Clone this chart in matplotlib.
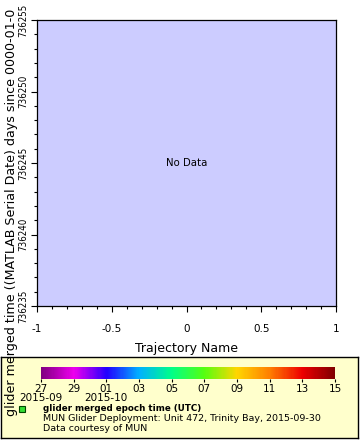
import numpy as np
import matplotlib
matplotlib.use("Agg")
import matplotlib.pyplot as plt
from matplotlib.colors import LinearSegmentedColormap, Normalize
from matplotlib.ticker import MultipleLocator, FixedLocator, FixedFormatter
import matplotlib.colorbar as mcolorbar

# axis ranges and ticks
x_range = [-1, 1]
x_ticks = [-1, -0.5, 0, 0.5, 1]
x_tick_labels = ["-1", "-0.5", "0", "0.5", "1"]
y_range = [736235, 736255]
y_ticks = [736235, 736240, 736245, 736250, 736255]
y_tick_labels = ["736235", "736240", "736245", "736250", "736255"]

# colorbar: days since 2015-09-27
cbar_days = [0, 2, 4, 6, 8, 10, 12, 14, 16, 18]
cbar_labels = ["27\n2015-09", "29", "01\n2015-10", "03", "05", "07", "09", "11", "13", "15"]
cmap_pos = [0, 2, 4, 6, 8, 10, 12, 14, 16, 18]
cmap_colors = ["#800080", "#ee00ee", "#2200ff", "#00b0ff", "#00ff88",
               "#55ff10", "#ffd600", "#ff8000", "#ee0000", "#800000"]

legend_title = "glider merged epoch time (UTC)"
legend_lines = ["MUN Glider Deployment: Unit 472, Trinity Bay, 2015-09-30",
                "Data courtesy of MUN"]

W, H = 360, 440
fig = plt.figure(figsize=(W / 100, H / 100), dpi=100)


def fx(px):
    return px / W


def fy(py):
    return 1 - py / H


# main axes
ax = fig.add_axes([fx(37), fy(306), fx(336) - fx(37), fy(20) - fy(306)])
ax.set_facecolor("#ccccff")
ax.set_xlim(*x_range)
ax.set_ylim(*y_range)
ax.xaxis.set_major_locator(FixedLocator(x_ticks))
ax.xaxis.set_major_formatter(FixedFormatter(x_tick_labels))
ax.xaxis.set_minor_locator(MultipleLocator(0.1))
ax.yaxis.set_major_locator(FixedLocator(y_ticks))
ax.yaxis.set_major_formatter(FixedFormatter(y_tick_labels))
ax.yaxis.set_minor_locator(MultipleLocator(1))
ax.tick_params(axis="both", which="major", direction="out", length=4, width=0.8, labelsize=7.5)
ax.tick_params(axis="both", which="minor", direction="out", length=2.5, width=0.8)
ax.tick_params(axis="x", which="major", pad=9)
ax.tick_params(axis="y", which="major", pad=2, labelsize=7)
for lab in ax.get_yticklabels():
    lab.set_rotation(90)
    lab.set_va("center")
    lab.set_fontstretch("condensed")
for sp in ax.spines.values():
    sp.set_linewidth(0.9)
ax.text(0.5, 0.5, "No Data", transform=ax.transAxes, ha="center", va="center", fontsize=7.3)

fig.text(fx(186), fy(348), "Trajectory Name", ha="center", va="center", fontsize=9)
fig.text(fx(12), fy(416), "glider merged time ((MATLAB Serial Date) days since 0000-01-0",
         rotation=90, ha="center", va="bottom", fontsize=9.1)

# legend box
lax = fig.add_axes([fx(1), fy(438), fx(358) - fx(1), fy(357) - fy(438)], zorder=-1)
lax.set_facecolor("#ffffcc")
lax.set_xticks([])
lax.set_yticks([])
for sp in lax.spines.values():
    sp.set_linewidth(1.0)

# colorbar
cmap = LinearSegmentedColormap.from_list(
    "glider", list(zip(np.array(cmap_pos) / cmap_pos[-1], cmap_colors)))
cax = fig.add_axes([fx(41), fy(379), fx(335) - fx(41), fy(367) - fy(379)])
cb = mcolorbar.ColorbarBase(cax, cmap=cmap, norm=Normalize(cbar_days[0], cbar_days[-1]),
                            orientation="horizontal")
cb.outline.set_visible(False)
cb.set_ticks(cbar_days)
cb.set_ticklabels(cbar_labels)
cax.tick_params(length=2, width=0.8, labelsize=7.5, pad=1.5)
for lab in cax.get_xticklabels():
    lab.set_linespacing(0.95)

# legend entry
fig.lines.append(plt.Line2D([fx(22)], [fy(409)], transform=fig.transFigure, marker="s",
                            markersize=4.5, markerfacecolor="#33dd33",
                            markeredgecolor="#004400", markeredgewidth=0.8, linestyle="none"))
fig.text(fx(43), fy(408), legend_title, ha="left", va="center", fontsize=6.3, fontweight="bold")
for i, line in enumerate(legend_lines):
    fig.text(fx(43), fy(418 + 10 * i), line, ha="left", va="center", fontsize=6.8)

fig.savefig("out.png", dpi=100)
